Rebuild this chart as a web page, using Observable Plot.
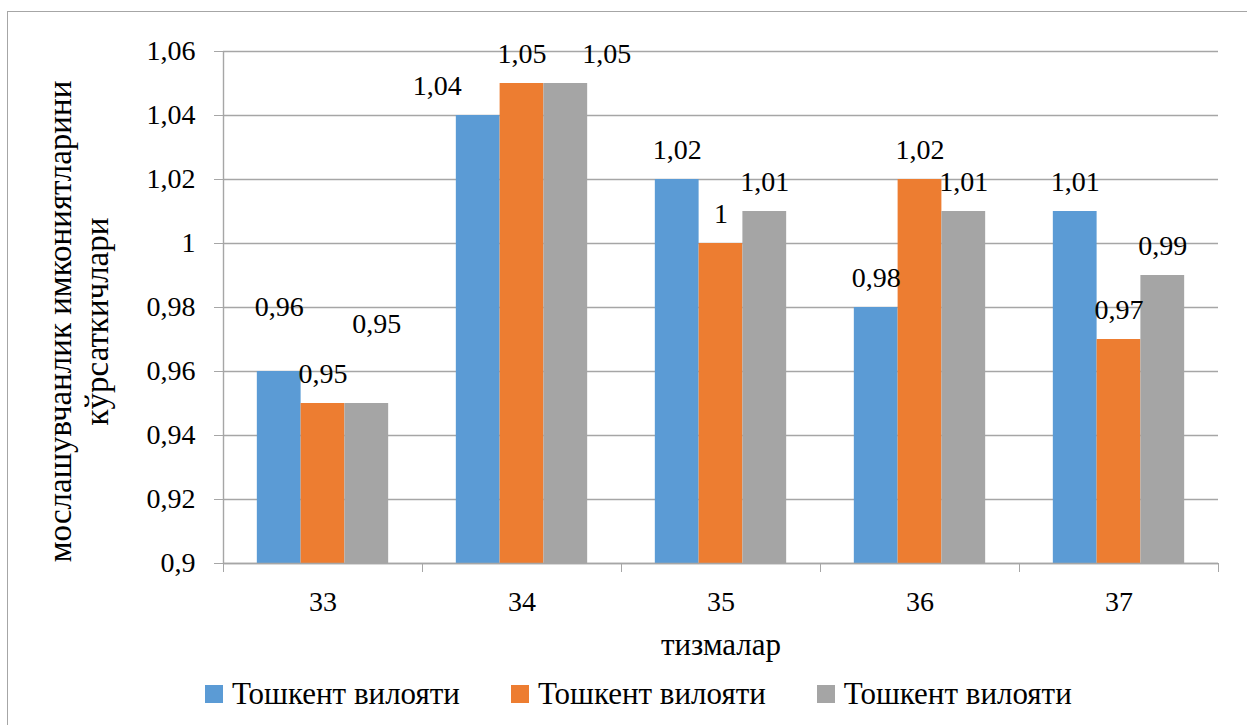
<!DOCTYPE html>
<html>
<head>
<meta charset="utf-8">
<script src="https://cdn.jsdelivr.net/npm/d3@7"></script>
<script src="https://cdn.jsdelivr.net/npm/@observablehq/plot@0.6"></script>
<style>
  html, body { margin: 0; padding: 0; background: #fff; width: 1247px; height: 725px; overflow: hidden; }
  #frame { position: absolute; left: 7px; top: 11px; width: 1400px; height: 900px;
           border: 1.5px solid #a6a6a6; box-sizing: border-box; }
  #chart { position: absolute; left: 0; top: 0; }
  #legend { position: absolute; left: 205px; top: 676px; display: flex; align-items: center;
            font-family: 'Liberation Serif', serif; font-size: 31px; color: #000; }
  .item { display: flex; align-items: center; margin-right: 51px; }
  .swatch { width: 18px; height: 18px; margin-right: 9px; }
  #chart svg, #chart svg text { font-family: 'Liberation Serif', serif; }
</style>
</head>
<body>
<div id="frame"></div>
<div id="chart"></div>
<div id="legend"></div>
<script>
// Categories along the x axis (тизмалар)
const categories = ["33", "34", "35", "36", "37"];
// Series names shown in the legend
const seriesNames = ["Тошкент вилояти", "Тошкент вилояти", "Тошкент вилояти"];
// Values for each series, one per category
const seriesA = [0.96, 1.04, 1.02, 0.98, 1.01];
const seriesB = [0.95, 1.05, 1.00, 1.02, 0.97];
const seriesC = [0.95, 1.05, 1.01, 1.01, 0.99];
// Y axis ticks
const yTicks = [0.9, 0.92, 0.94, 0.96, 0.98, 1, 1.02, 1.04, 1.06];
const colors = ["#5B9BD5", "#ED7D31", "#A5A5A5"];

const allSeries = [seriesA, seriesB, seriesC];
const rows = allSeries.flatMap((vals, s) =>
  vals.map((value, ci) => ({ cat: categories[ci], ci, s, value })));

// grouped layout: each series takes 0.22 of a category, cluster centred on the category
const barW = 0.22;
const left = d => d.ci - 1.5 * barW + d.s * barW;
const center = d => left(d) + barW / 2;
const fmt = v => String(v).replace(".", ",");

// a few value labels sit away from their default spot above the bar
const labelShift = [
  { s: 0, ci: 0, dx: 0, dy: -35 },
  { s: 0, ci: 1, dx: -41, dy: 0 },
  { s: 2, ci: 0, dx: 10, dy: -50 },
  { s: 2, ci: 1, dx: 41, dy: 0 }
];
const shiftOf = d => labelShift.find(o => o.s === d.s && o.ci === d.ci);

const serif = "Liberation Serif";
const grid = { stroke: "#a6a6a6", strokeWidth: 1.4 };
const labelStyle = { fontSize: 28, lineAnchor: "middle", fill: "#000" };

const plot = Plot.plot({
  width: 1247,
  height: 670,
  marginLeft: 223,
  marginRight: 29,
  marginTop: 51,
  marginBottom: 107,
  style: { fontFamily: serif, fontSize: "28px", background: "none", color: "#000" },
  x: { type: "linear", domain: [-0.5, categories.length - 0.5], axis: null },
  y: { domain: [0.9, 1.06], axis: null },
  marks: [
    Plot.ruleY(yTicks, grid),
    ...allSeries.map((_, s) =>
      Plot.rectY(rows.filter(d => d.s === s), {
        x1: left, x2: d => left(d) + barW, y1: 0.9, y2: "value", fill: colors[s]
      })),
    Plot.ruleY([0.9], grid),
    Plot.ruleX([-0.5], grid),
    Plot.axisY(yTicks, { tickFormat: fmt, tickSize: 9, tickPadding: 19, stroke: "#a6a6a6", fill: "#000", fontSize: 28, label: null }),
    Plot.axisX(d3.range(categories.length + 1).map(i => i - 0.5), { tickSize: 9, tickFormat: () => "", stroke: "#a6a6a6", label: null }),
    Plot.axisX(d3.range(categories.length), { tickSize: 0, tickPadding: 28, tickFormat: i => categories[i], fill: "#000", fontSize: 28, label: null }),
    // value labels in their usual place
    Plot.text(rows.filter(d => !shiftOf(d)), { x: center, y: "value", text: d => fmt(d.value), dy: -29, ...labelStyle }),
    // value labels that were moved
    ...labelShift.map(o => Plot.text(rows.filter(d => d.s === o.s && d.ci === o.ci), {
      x: center, y: "value", text: d => fmt(d.value), dx: o.dx, dy: -29 + o.dy, ...labelStyle
    })),
    // axis titles
    Plot.text(["тизмалар"], { frameAnchor: "bottom", dy: 82, fontSize: 31, lineAnchor: "middle", textAnchor: "middle" }),
    Plot.text(["мослашувчанлик имкониятларини\nкўрсаткичлари"], {
      frameAnchor: "left", rotate: -90, dx: -146, dy: 14, fontSize: 33, lineHeight: 1.12,
      lineAnchor: "middle", textAnchor: "middle"
    })
  ]
});
document.getElementById("chart").append(plot);

const legend = d3.select("#legend");
seriesNames.forEach((name, i) => {
  const item = legend.append("div").attr("class", "item");
  item.append("div").attr("class", "swatch").style("background", colors[i]);
  item.append("span").text(name);
});
</script>
</body>
</html>
